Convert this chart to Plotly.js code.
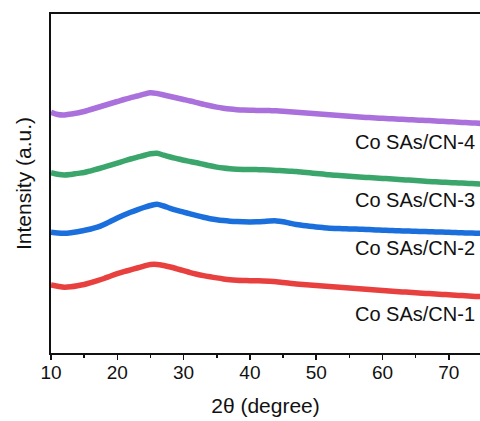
<!DOCTYPE html>
<html>
<head>
<meta charset="utf-8">
<script src="https://cdn.plot.ly/plotly-3.0.1.min.js"></script>
<style>html,body{margin:0;padding:0;background:#fff;}#chart{width:480px;height:421px;}</style>
</head>
<body>
<div id="chart"></div>
<script>
// 2θ (degree)
const twoTheta = [10,11,12,13,14,15,16,17,18,19,20,21,22,23,24,25,26,27,28,29,30,31,32,33,34,35,36,37,38,39,40,41,42,43,44,45,46,47,48,49,50,51,52,53,54,55,56,57,58,59,60,61,62,63,64,65,66,67,68,69,70,71,72,73,74,75];

// Intensity (a.u.), stacked offsets as in the figure
const cn1 = [68,66.8,65.8,66.2,67.2,68.5,70.3,72.3,74.5,77,79.3,81.3,83.2,85,86.8,88.5,88.6,87.5,86,84.2,82.3,80.4,78.8,77.4,76.2,75.1,74.1,73.3,72.8,72.5,72.3,72.2,72.1,71.8,71.3,70.5,69.7,69.1,68.5,68,67.4,66.9,66.4,66,65.5,65,64.6,64.1,63.6,63.1,62.6,62.1,61.6,61.1,60.7,60.2,59.8,59.4,59,58.6,58.2,57.8,57.4,57,56.6,56.3];
const cn2 = [120.7,120,119.7,120.3,121.3,122.6,124,125.8,128.5,131.8,135,138,140.7,143.2,145.5,147.5,148.8,147,144.7,142.7,140.9,139.1,137.3,135.7,134.3,133.2,132.4,131.8,131.4,131.2,131.1,131.2,131.5,132,132.1,131.2,129.8,128.5,127.6,126.8,126.1,125.4,124.8,124.5,124.3,124.1,123.9,123.7,123.4,123.1,122.8,122.6,122.3,122.1,121.9,121.7,121.5,121.3,121.1,120.9,120.7,120.4,120.2,120,119.8,119.6];
const cn3 = [180.3,178.8,178,178.6,179.6,180.5,182.2,184,185.8,187.8,189.9,192,194,195.8,197.5,199.3,199.8,197.8,196,194.4,192.8,191.5,190.2,188.7,187.2,185.9,184.9,184.2,183.8,183.6,183.5,183.4,183.3,183,182.6,182.2,181.8,181.4,180.8,180.2,179.5,178.9,178.2,177.7,177.2,176.7,176.2,175.8,175.4,175,174.6,174.2,173.8,173.3,172.9,172.4,172,171.5,171.2,170.8,170.5,170.2,169.9,169.6,169.2,168.9];
const cn4 = [240.7,238.5,238,239,240,241.5,243.5,245.5,247.5,249.5,251.5,253.5,255.3,257,258.8,260.3,259.5,258,256.5,255,253.5,252,250.3,248.7,247.2,245.9,244.8,243.9,243.3,242.9,242.7,242.6,242.6,242.4,242.2,241.8,241.3,240.8,240.3,239.8,239.3,238.8,238.2,237.7,237.3,236.8,236.3,235.8,235.4,235,234.7,234.3,234,233.7,233.3,233,232.7,232.4,232,231.7,231.3,231,230.6,230.2,229.9,229.5];

const seriesNames = ["Co SAs/CN-1","Co SAs/CN-2","Co SAs/CN-3","Co SAs/CN-4"];
const seriesValues = [cn1, cn2, cn3, cn4];
const seriesColors = ["#e8403f","#1a6fdc","#3aa66b","#aa70dc"];
const labelOffsets = [-17.3, -15, -15.9, -18.2]; // label position relative to curve end (a.u.)

const traces = seriesValues.map((v, i) => ({
  x: twoTheta, y: v, type: "scatter", mode: "lines", name: seriesNames[i],
  line: {color: seriesColors[i], width: 5.5, shape: "spline", smoothing: 0.8},
  hoverinfo: "skip"
}));

const fontFam = "Liberation Sans, Arial, sans-serif";
const annotations = seriesNames.map((n, i) => ({
  text: n, xref: "paper", yref: "y", x: 0.994, xanchor: "right",
  y: seriesValues[i][seriesValues[i].length - 1] + labelOffsets[i], yanchor: "middle",
  showarrow: false, font: {family: fontFam, size: 20, color: "#111"}
}));

const layout = {
  width: 480, height: 421,
  margin: {l: 51, r: 0, t: 14, b: 68},
  paper_bgcolor: "#fff", plot_bgcolor: "#fff",
  showlegend: false,
  xaxis: {
    range: [10, 74.7], tickvals: [10,20,30,40,50,60,70],
    ticks: "outside", ticklen: 5, tickwidth: 1.5, tickcolor: "#111",
    ticklabelstandoff: -4,
    minor: {tickvals: [15,25,35,45,55,65], ticks: "outside", ticklen: 3, tickwidth: 1.5, tickcolor: "#111"},
    showline: true, linecolor: "#111", linewidth: 2, mirror: true,
    showgrid: false, zeroline: false,
    tickfont: {family: fontFam, size: 19, color: "#111"},
    title: {text: "2θ (degree)", font: {family: fontFam, size: 21, color: "#111"}, standoff: 17}
  },
  yaxis: {
    range: [0, 339], showticklabels: false, ticks: "",
    showline: true, linecolor: "#111", linewidth: 2, mirror: false,
    showgrid: false, zeroline: false,
    title: {text: "Intensity (a.u.)", font: {family: fontFam, size: 21, color: "#111"}, standoff: 12}
  },
  annotations: annotations
};

Plotly.newPlot("chart", traces, layout, {displayModeBar: false, staticPlot: true});
</script>
</body>
</html>
